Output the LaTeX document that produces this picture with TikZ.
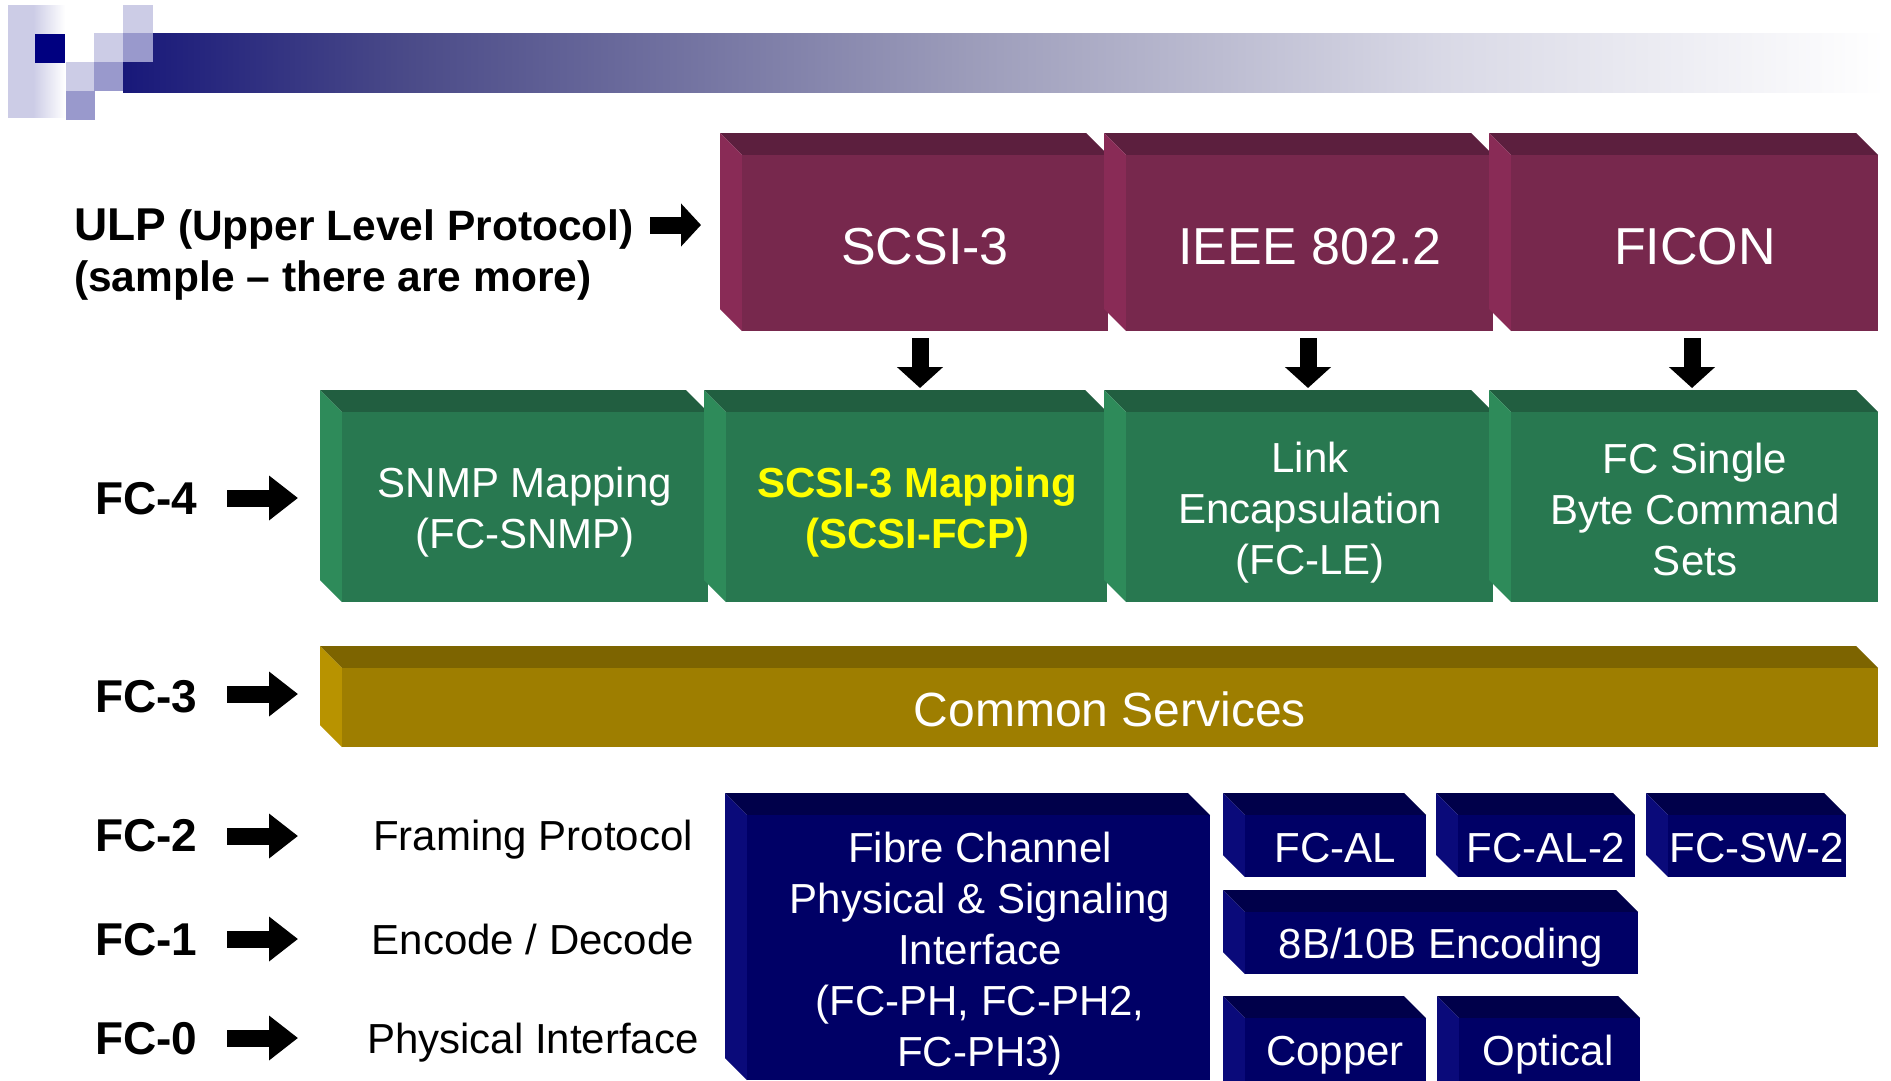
\documentclass[tikz,border=0pt]{standalone}
\usepackage{fontspec}
\setmainfont{Liberation Sans}
\usetikzlibrary{arrows.meta}

% layer colours: front face, top face, side face
\definecolor{purpfront}{HTML}{77284D}
\definecolor{purptop}{HTML}{5C1F3E}
\definecolor{purpside}{HTML}{892B56}
\definecolor{grnfront}{HTML}{287850}
\definecolor{grntop}{HTML}{215E40}
\definecolor{grnside}{HTML}{2E8B5A}
\definecolor{goldfront}{HTML}{9E7E00}
\definecolor{goldtop}{HTML}{7D6400}
\definecolor{goldside}{HTML}{B89300}
\definecolor{navyfront}{HTML}{000066}
\definecolor{navytop}{HTML}{00004A}
\definecolor{navyside}{HTML}{0A0A7A}
% header ornament
\definecolor{logolight}{HTML}{CCCCE6}
\definecolor{logomid}{HTML}{9999CC}
\definecolor{logodark}{HTML}{000080}
\definecolor{barA}{HTML}{18187A}
\definecolor{barB}{HTML}{4A4A88}
\definecolor{barC}{HTML}{9C9CBA}
\definecolor{barD}{HTML}{D9D9E6}

\pgfdeclarehorizontalshading{barfade}{100bp}{color(0bp)=(barA); color(25bp)=(barA); color(33bp)=(barB); color(49bp)=(barC); color(62.5bp)=(barD); color(75bp)=(white); color(100bp)=(white)}
\pgfdeclarehorizontalshading{tilefade}{100bp}{color(0bp)=(logolight); color(47bp)=(logolight); color(75bp)=(white); color(100bp)=(white)}

% bevelled block: x1 y1 x2 y2 colour-family
\newcommand{\cubebox}[5]{%
  \fill[#5top] (#1,#2) -- (#3-22,#2) -- (#3,#2+22) -- (#1+22,#2+22) -- cycle;
  \fill[#5side] (#1,#2) -- (#1+22,#2+22) -- (#1+22,#4) -- (#1,#4-22) -- cycle;
  \fill[#5front] (#1+22,#2+22) rectangle (#3,#4);
}

\tikzset{
  boxtxt/.style={text=white, inner sep=0pt, align=center, font=\fontsize{42}{51}\selectfont},
  onelinetxt/.style={boxtxt, anchor=base},
  bigtxt/.style={text=white, inner sep=0pt, anchor=base, font=\fontsize{52}{62}\selectfont},
  fclabel/.style={inner sep=0pt, anchor=base west, font=\bfseries\fontsize{46}{55}\selectfont},
  layertxt/.style={inner sep=0pt, anchor=base, font=\fontsize{42}{51}\selectfont},
  pointer/.style={line width=17pt, -{Triangle[length=29pt,width=43pt]}},
  downpointer/.style={line width=17pt, -{Triangle[length=21pt,width=45pt]}},
}

\begin{document}
\begin{tikzpicture}[x=1pt, y=-1pt]
\useasboundingbox (0,0) rectangle (1891,1080);
\clip (0,0) rectangle (1891,1080);
\fill[white] (0,0) rectangle (1891,1080);

% ---- header ornament ----
\shade[shading=tilefade] (8,5) rectangle (65,117);
\fill[logodark] (35,34) rectangle (65,63);
\shade[shading=barfade] (123,33) rectangle (1885,92);
\fill[logolight] (123,5) rectangle (153,33);
\fill[logolight] (94,33) rectangle (123,62);
\fill[logomid] (123,33) rectangle (153,62);
\fill[logolight] (66,62) rectangle (94,91);
\fill[logomid] (94,62) rectangle (123,91);
\fill[logomid] (66,91) rectangle (95,120);

% ---- ULP row ----
\cubebox{720}{133}{1108}{331}{purp}
\cubebox{1104}{133}{1493}{331}{purp}
\cubebox{1489}{133}{1878}{331}{purp}
\node[bigtxt] (scsi) at (925,264) {SCSI-3};
\node[bigtxt] (ieee) at (1310,264) {IEEE 802.2};
\node[bigtxt] (ficon) at (1695,264) {FICON};

% ---- FC-4 row ----
\cubebox{320}{390}{708}{602}{grn}
\cubebox{704}{390}{1107}{602}{grn}
\cubebox{1104}{390}{1493}{602}{grn}
\cubebox{1489}{390}{1878}{602}{grn}
\node[boxtxt] (snmp) at (525,512) {SNMP Mapping\\(FC-SNMP)};
\node[boxtxt, text={rgb,255:red,255;green,255;blue,0}, font=\bfseries\fontsize{42}{51}\selectfont] (fcp) at (917,512) {SCSI-3 Mapping\\(SCSI-FCP)};
\node[boxtxt] (fcle) at (1310,513) {Link\\Encapsulation\\(FC-LE)};
\node[boxtxt] (sbcs) at (1695,509) {FC Single\\Byte Command\\Sets};

% ---- FC-3 row ----
\cubebox{320}{646}{1878}{747}{gold}
\node[bigtxt, font=\fontsize{48}{58}\selectfont] (common) at (1110,726) {Common Services};

% ---- FC-2 / FC-1 / FC-0 blocks ----
\cubebox{725}{793}{1210}{1080}{navy}
\cubebox{1223}{793}{1426}{877}{navy}
\cubebox{1436}{793}{1635}{877}{navy}
\cubebox{1646}{793}{1846}{877}{navy}
\cubebox{1223}{890}{1638}{974}{navy}
\cubebox{1223}{996}{1426}{1104}{navy}
\cubebox{1437}{996}{1640}{1104}{navy}
\node[boxtxt] (fcph) at (980,954) {Fibre Channel\\Physical \& Signaling\\Interface\\(FC-PH, FC-PH2,\\FC-PH3)};
\node[onelinetxt] (fcal) at (1335,862) {FC-AL};
\node[onelinetxt] (fcal2) at (1546,862) {FC-AL-2};
\node[onelinetxt] (fcsw) at (1757,862) {FC-SW-2};
\node[onelinetxt] (enc) at (1441,958) {8B/10B Encoding};
\node[onelinetxt] (copper) at (1335,1065) {Copper};
\node[onelinetxt] (optical) at (1548,1065) {Optical};

% ---- left-hand labels ----
\node[inner sep=0pt, anchor=base west, font=\bfseries\fontsize{42.5}{51}\selectfont] (ulp1) at (74,240)
  {{\fontsize{46}{55}\selectfont ULP} (Upper Level Protocol)};
\node[inner sep=0pt, anchor=base west, font=\bfseries\fontsize{42.5}{51}\selectfont] (ulp2) at (74,291)
  {(sample \textendash\ there are more)};
\node[fclabel] (fc4) at (95,514) {FC-4};
\node[fclabel] (fc3) at (95,712) {FC-3};
\node[fclabel] (fc2) at (95,851) {FC-2};
\node[fclabel] (fc1) at (95,955) {FC-1};
\node[fclabel] (fc0) at (95,1054) {FC-0};
\node[layertxt] (framing) at (533,850) {Framing Protocol};
\node[layertxt] (encdec) at (533,954) {Encode / Decode};
\node[layertxt] (phys) at (533,1053) {Physical Interface};

% ---- pointers ----
\coordinate (ulpS) at (650,225);  \coordinate (ulpE) at (701,225);
\draw[line width=17pt, -{Triangle[length=20pt,width=42pt]}] (ulpS) -- (ulpE);
\coordinate (p4S) at (227,498);  \coordinate (p4E) at (298,498);
\coordinate (p3S) at (227,694);  \coordinate (p3E) at (298,694);
\coordinate (p2S) at (227,836);  \coordinate (p2E) at (298,836);
\coordinate (p1S) at (227,939);  \coordinate (p1E) at (298,939);
\coordinate (p0S) at (227,1038); \coordinate (p0E) at (298,1038);
\draw[pointer] (p4S) -- (p4E);
\draw[pointer] (p3S) -- (p3E);
\draw[pointer] (p2S) -- (p2E);
\draw[pointer] (p1S) -- (p1E);
\draw[pointer] (p0S) -- (p0E);
\coordinate (d1S) at (920,338);  \coordinate (d1E) at (920,388);
\coordinate (d2S) at (1308,338); \coordinate (d2E) at (1308,388);
\coordinate (d3S) at (1692,338); \coordinate (d3E) at (1692,388);
\draw[downpointer] (d1S) -- (d1E);
\draw[downpointer] (d2S) -- (d2E);
\draw[downpointer] (d3S) -- (d3E);
\end{tikzpicture}
\end{document}
